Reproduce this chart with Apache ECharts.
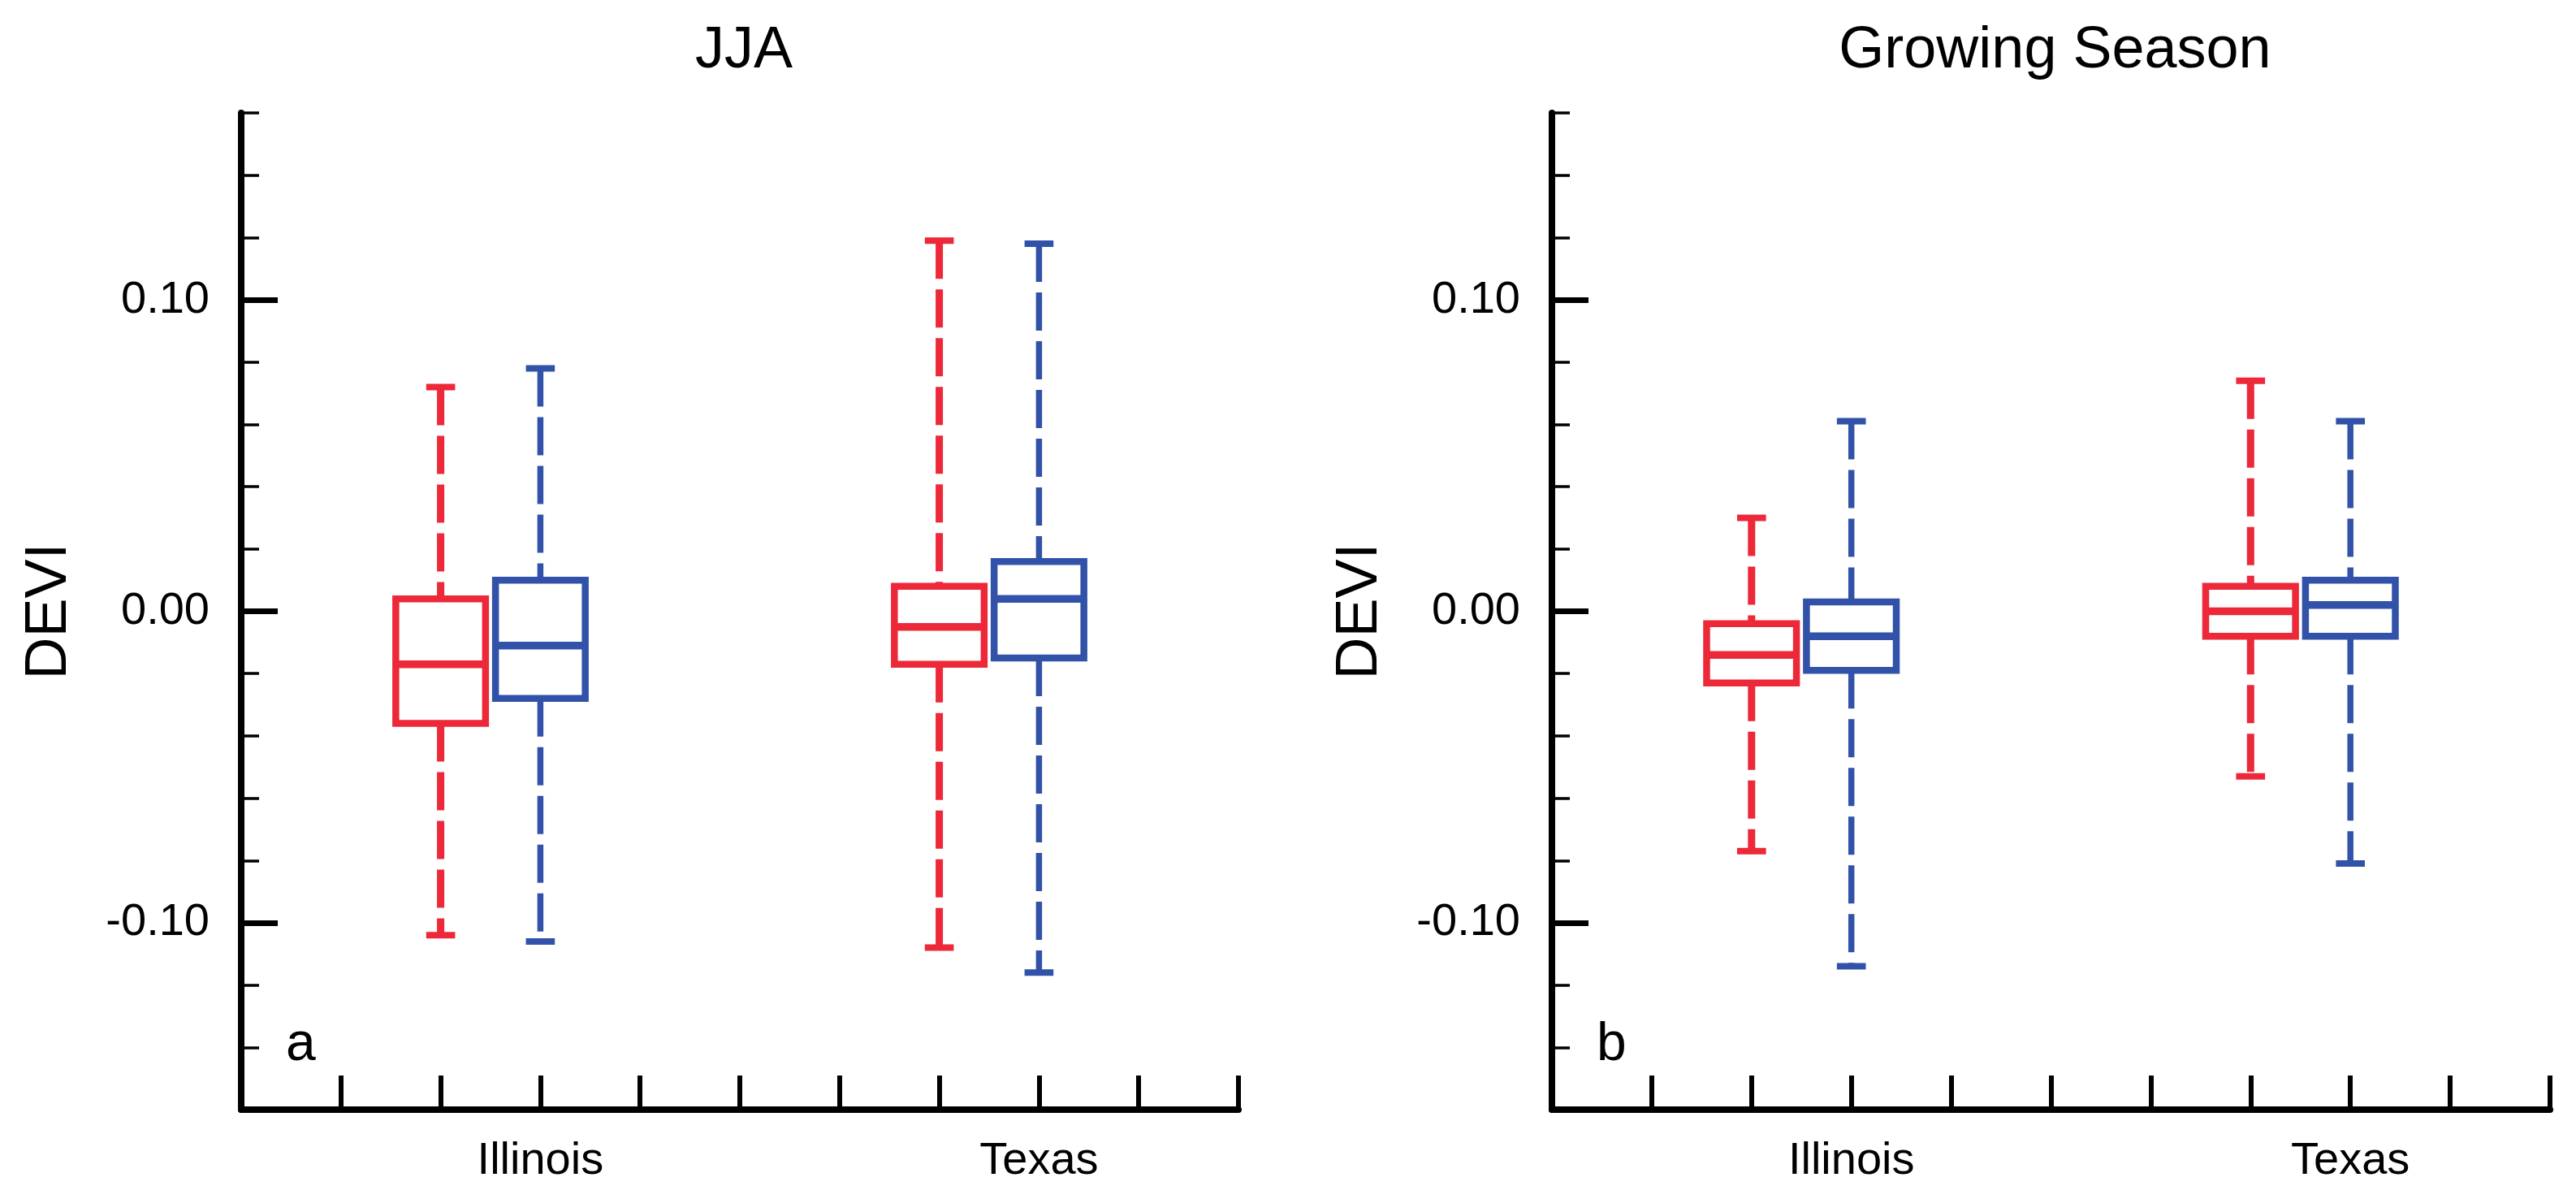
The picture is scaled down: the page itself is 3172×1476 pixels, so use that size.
<!DOCTYPE html>
<html>
<head>
<meta charset="utf-8">
<script src="https://cdn.jsdelivr.net/npm/echarts@6/dist/echarts.min.js"></script>
<style>
  html, body { margin: 0; padding: 0; background: #ffffff; }
  #chart { width: 3172px; height: 1476px; }
</style>
</head>
<body>
<div id="chart"></div>
<script>
// ---------- data ----------
const categories = ['Illinois', 'Texas'];
const panelTitles = ['JJA', 'Growing Season'];
const panelLetters = ['a', 'b'];
const groupNames = ['Group 1', 'Group 2'];
const majorTickValues = [-0.10, 0.00, 0.10];
const minorTickValues = [-0.14, -0.12, -0.08, -0.06, -0.04, -0.02, 0.02, 0.04, 0.06, 0.08, 0.12, 0.14, 0.16];

// [min, Q1, median, Q3, max] per category (Illinois, Texas)
const jjaRed  = [[-0.104, -0.036, -0.017, 0.004, 0.072], [-0.108, -0.017, -0.005, 0.008, 0.119]];
const jjaBlue = [[-0.106, -0.028, -0.011, 0.010, 0.078], [-0.116, -0.015,  0.004, 0.016, 0.118]];
const gsRed   = [[-0.077, -0.023, -0.014, -0.004, 0.030], [-0.053, -0.008, 0.000, 0.008, 0.074]];
const gsBlue  = [[-0.114, -0.019, -0.008, 0.003, 0.061], [-0.081, -0.008,  0.002, 0.010, 0.061]];

// ---------- styling ----------
const FONT = '"Liberation Sans", Arial, Helvetica, sans-serif';
const RED = '#ec2839';
const BLUE = '#3152a8';
const panelStats = [[jjaRed, jjaBlue], [gsRed, gsBlue]];
const groupColors = [RED, BLUE];
const whiskerWidths = [9, 7.5];
const grids = [
  { left: 297, top: 139, width: 1228, height: 1227 },
  { left: 1911, top: 139, width: 1229, height: 1227 }
];

function makeRenderer(color, whiskerWidth) {
  return function (params, api) {
    const x = api.value(0);
    const mn = api.value(1), q1 = api.value(2), md = api.value(3), q3 = api.value(4), mx = api.value(5);
    const unit = api.size([1, 0])[0];
    const hw = unit * 0.45, cw = unit * 0.145;
    const px = api.coord([x, 0])[0];
    const y = v => api.coord([x, v])[1];
    const dash = { stroke: color, lineWidth: whiskerWidth, lineDash: [47, 13], fill: null };
    const solid = w => ({ stroke: color, lineWidth: w, fill: null });
    return {
      type: 'group',
      children: [
        { type: 'line', shape: { x1: px, y1: y(mx), x2: px, y2: y(q3) }, style: dash },
        { type: 'line', shape: { x1: px, y1: y(q1), x2: px, y2: y(mn) }, style: dash },
        { type: 'line', shape: { x1: px - cw, y1: y(mx), x2: px + cw, y2: y(mx) }, style: solid(8) },
        { type: 'line', shape: { x1: px - cw, y1: y(mn), x2: px + cw, y2: y(mn) }, style: solid(8) },
        { type: 'rect', shape: { x: px - hw, y: y(q3), width: 2 * hw, height: y(q1) - y(q3) }, style: solid(8.5) },
        { type: 'line', shape: { x1: px - hw, y1: y(md), x2: px + hw, y2: y(md) }, style: solid(9.5) }
      ]
    };
  };
}

const xAxes = [], yAxes = [], series = [], titles = [], graphics = [];
grids.forEach((g, p) => {
  xAxes.push({
    type: 'value', gridIndex: p, min: 0, max: 10, interval: 1, position: 'bottom',
    axisLine: { show: true, onZero: false, lineStyle: { color: '#000', width: 8 } },
    axisTick: { show: true, inside: true, length: 42, lineStyle: { color: '#000', width: 6 } },
    axisLabel: {
      show: true,
      customValues: categories.map((c, i) => i * 5 + 3),
      formatter: v => categories[Math.round((v - 3) / 5)],
      color: '#000', fontSize: 56, fontFamily: FONT, margin: 36
    },
    splitLine: { show: false }
  });
  // minor ticks + axis line
  yAxes.push({
    type: 'value', gridIndex: p, min: -0.16, max: 0.16, interval: 0.02, position: 'left',
    name: 'DEVI', nameLocation: 'middle', nameGap: 200,
    nameTextStyle: { fontSize: 72, color: '#000', fontFamily: FONT },
    axisLine: { show: true, onZero: false, lineStyle: { color: '#000', width: 8 } },
    axisTick: { show: true, inside: true, length: 22, customValues: minorTickValues, lineStyle: { color: '#000', width: 3.5 } },
    axisLabel: { show: false },
    splitLine: { show: false }
  });
  // major ticks + labels
  yAxes.push({
    type: 'value', gridIndex: p, min: -0.16, max: 0.16, interval: 0.02, position: 'left',
    axisLine: { show: false, onZero: false },
    axisTick: { show: true, inside: true, length: 45, customValues: majorTickValues, lineStyle: { color: '#000', width: 7 } },
    axisLabel: {
      show: true, customValues: majorTickValues,
      formatter: v => v.toFixed(2),
      color: '#000', fontSize: 56, fontFamily: FONT, margin: 39
    },
    splitLine: { show: false }
  });
  panelStats[p].forEach((stats, gi) => {
    series.push({
      name: groupNames[gi],
      type: 'custom',
      xAxisIndex: p,
      yAxisIndex: p * 2,
      renderItem: makeRenderer(groupColors[gi], whiskerWidths[gi]),
      encode: { x: 0, y: [1, 2, 3, 4, 5] },
      data: categories.map((c, i) => [i * 5 + 2 + gi].concat(stats[i])),
      silent: true,
      clip: false
    });
  });
  titles.push({
    text: panelTitles[p], left: g.left + g.width / 2, top: 22, textAlign: 'center',
    textStyle: { fontSize: 72, fontWeight: 'normal', color: '#000', fontFamily: FONT }
  });
  graphics.push({
    type: 'text', x: g.left + 55, y: 1287,
    style: { text: panelLetters[p], fontSize: 66, fill: '#000', font: '66px ' + FONT, verticalAlign: 'middle', textAlign: 'left' }
  });
});

const chart = echarts.init(document.getElementById('chart'), null, { renderer: 'canvas' });
chart.setOption({
  animation: false,
  backgroundColor: '#ffffff',
  title: titles,
  grid: grids,
  xAxis: xAxes,
  yAxis: yAxes,
  series: series,
  graphic: graphics
});
</script>
</body>
</html>
